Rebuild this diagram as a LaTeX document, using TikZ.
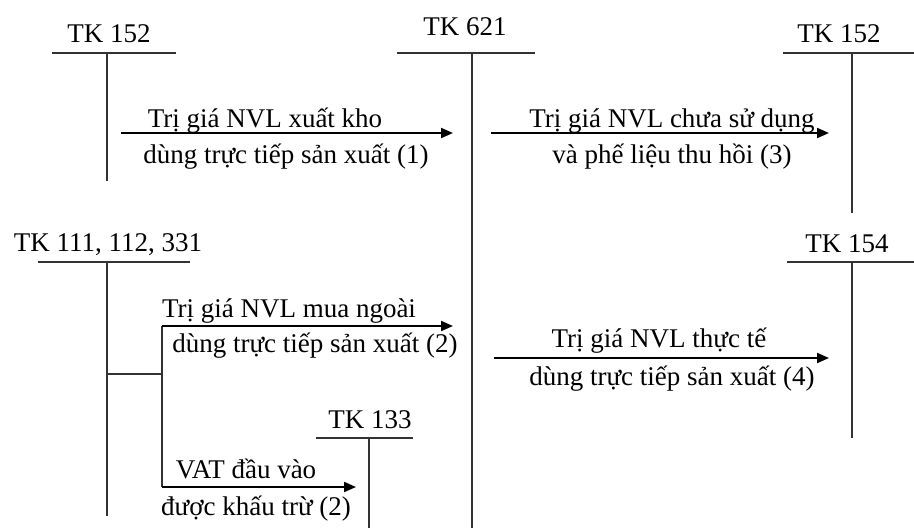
\documentclass[tikz,border=0pt]{standalone}
\usepackage{fontspec}
\setmainfont{Liberation Serif}
\usetikzlibrary{arrows.meta}
\begin{document}
\begin{tikzpicture}[x=1pt,y=-1pt,
  every node/.style={inner sep=0pt,anchor=base,font=\fontsize{27}{32}\selectfont},
  tline/.style={line width=1.3pt,black!80},
  flow/.style={line width=2pt,-{Triangle[length=12pt,width=10pt]}}]
\useasboundingbox (0,0) rectangle (914,528);

% account headers
\node (h152a) at (109,42) {TK 152};
\node (h621) at (465,35) {TK 621};
\node (h152b) at (839,42) {TK 152};
\node (h111) at (108,251) {TK 111, 112, 331};
\node (h154) at (847,252) {TK 154};
\node (h133) at (370,428) {TK 133};

% T-account lines
\draw[tline] (52,53) -- (176,53);  \draw[tline] (107,53) -- (107,181);
\draw[tline] (397,53) -- (535,53); \draw[tline] (472,53) -- (472,528);
\draw[tline] (783,53) -- (914,53); \draw[tline] (852,53) -- (852,213);
\draw[tline] (38,262) -- (190,262); \draw[tline] (107,262) -- (107,516);
\draw[tline] (787,262) -- (914,262); \draw[tline] (852,262) -- (852,438);
\draw[tline] (316,438) -- (413,438); \draw[tline] (369,438) -- (369,528);

% branch from TK 111, 112, 331
\coordinate (bL) at (107,374);
\coordinate (bR) at (162,374);
\coordinate (bT) at (162,326);
\coordinate (bB) at (162,487);
\draw[tline] (bL) -- (bR);
\draw[tline] (bT) -- (bB);

% flows
\coordinate (a1s) at (121,133); \coordinate (a1e) at (453,133);
\coordinate (a3s) at (491,133); \coordinate (a3e) at (829,133);
\coordinate (a2e) at (453,326);
\coordinate (a4s) at (494,358); \coordinate (a4e) at (829,358);
\coordinate (a5e) at (356,487);
\draw[flow] (a1s) -- (a1e);
\draw[flow] (a3s) -- (a3e);
\draw[flow] (bT) -- (a2e);
\draw[flow] (a4s) -- (a4e);
\draw[flow] (bB) -- (a5e);

% flow labels
\node (l1a) at (265,127) {Trị giá NVL xuất kho};
\node (l1b) at (286,163) {dùng trực tiếp sản xuất (1)};
\node (l3a) at (672,127) {Trị giá NVL chưa sử dụng};
\node (l3b) at (672,163) {và phế liệu thu hồi (3)};
\node (l2a) at (289,317) {Trị giá NVL mua ngoài};
\node (l2b) at (315,352) {dùng trực tiếp sản xuất (2)};
\node (l4a) at (659,347) {Trị giá NVL thực tế};
\node (l4b) at (672,385) {dùng trực tiếp sản xuất (4)};
\node (l5a) at (246,478) {VAT đầu vào};
\node (l5b) at (256,515) {được khấu trừ (2)};
\end{tikzpicture}
\end{document}
